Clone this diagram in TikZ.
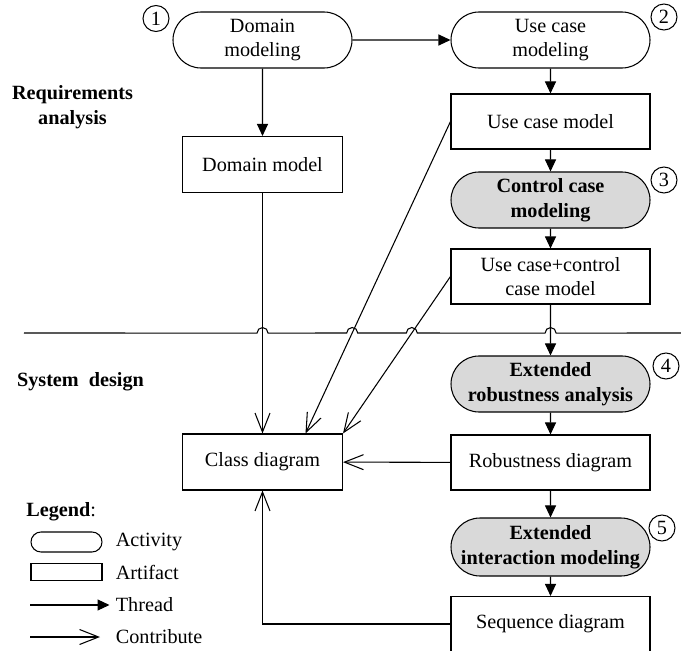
\documentclass[tikz,border=0pt]{standalone}
\usepackage{fontspec}
\setmainfont{Liberation Serif}
\usepackage{tikz}
\usetikzlibrary{arrows.meta,shapes.misc}
\newcommand\figfont{\fontsize{11.5pt}{14pt}\selectfont}
\tikzset{my thread/.style={
  black,
  -{Triangle[length=0.24cm,width=0.22cm]}
  },
  my contrib/.style={
  black,
  -{Straight Barb[length=0.38cm,width=0.30cm]}
  },
  activity/.style={draw,rounded rectangle,minimum width=3.98cm,minimum height=1.12cm,inner sep=0pt,align=center,font=\figfont},
  artifact/.style={draw,rectangle,minimum width=3.98cm,minimum height=1.10cm,align=center,font=\figfont},
  gray act/.style={activity,fill=black!15,font=\figfont\bfseries}
}

\begin{document}
\begin{tikzpicture}[line width=0.6pt]
    \useasboundingbox (0,0) rectangle (13.62,-13.02);

    \node[activity,minimum width=3.58cm] (DM) at (5.25,-0.80) {Domain\\modeling};
    \node[activity] (UCM) at (11.01,-0.80) {Use case\\modeling};
    \node[artifact] (UC) at (11.01,-2.43) {Use case model};
    \node[gray act] (CCM) at (11.01,-4.00) {Control case\\modeling};
    \node[artifact] (UCC) at (11.01,-5.53) {Use case+control\\case model};
    \node[gray act] (ERA) at (11.01,-7.68) {Extended\\robustness analysis};
    \node[artifact] (RD) at (11.01,-9.25) {Robustness diagram};
    \node[gray act,minimum height=1.16cm] (EIM) at (11.01,-10.94) {Extended\\interaction modeling};
    \node[artifact] (SD) at (11.01,-12.48) {Sequence diagram};
    \node[artifact,minimum width=3.20cm,minimum height=1.12cm] (DMod) at (5.25,-3.29) {Domain model};
    \node[artifact,minimum width=3.20cm,minimum height=1.12cm] (CD) at (5.25,-9.24) {Class diagram};

    \foreach \n/\x/\y in {1/3.12/-0.37,2/13.28/-0.34,3/13.28/-3.60,4/13.32/-7.32,5/13.24/-10.56}
        \node[draw,circle,minimum size=0.52cm,inner sep=0pt,font=\figfont] (C\n) at (\x,\y) {\n};

    \node[font=\figfont\bfseries,align=center] (RA) at (1.45,-2.14) {Requirements\\analysis};
    \node[font=\figfont\bfseries] (SysD) at (1.61,-7.64) {System~~design};

    \draw[my thread] (DM) -- (UCM);
    \draw[my thread] (DM) -- (DMod);
    \draw[my thread] (UCM) -- (UC);
    \draw[my thread] (UC) -- (CCM);
    \draw[my thread] (CCM) -- (UCC);
    \draw[my thread] (UCC) -- (ERA);
    \draw[my thread] (ERA) -- (RD);
    \draw[my thread] (RD) -- (EIM);
    \draw[my thread] (EIM) -- (SD);

    \coordinate (T1) at ([xshift=0.86cm]CD.north);
    \draw[my contrib] (DMod) -- (CD);
    \draw[my contrib] (UC.west) -- (T1);
    \draw[my contrib] (UCC.west) -- (CD.north east);
    \draw[my contrib] (RD) -- (CD);
    \draw[my contrib] (SD.west) -| (CD.south);

    % border between the two phases, hopping over the lines
    \coordinate (L) at (0.48,-6.66);
    \coordinate (R) at (13.62,-6.66);
    \coordinate (J1) at (intersection of L--R and DMod--CD);
    \coordinate (J2) at (intersection of L--R and UC.west--T1);
    \coordinate (J3) at (intersection of L--R and UCC.west--CD.north east);
    \coordinate (J4) at (intersection of L--R and UCC--ERA);
    \draw (L) foreach \j in {1,...,4} {-- ([xshift=-0.11cm]J\j) arc (180:0:0.11cm)} -- (R);

    % legend
    \node[font=\figfont,anchor=west] (LG) at (0.40,-10.24) {\textbf{Legend}:};
    \node[draw,rounded rectangle,minimum width=1.42cm,minimum height=0.40cm,inner sep=0pt] (LA) at (1.33,-10.84) {};
    \node[draw,minimum width=1.42cm,minimum height=0.34cm,inner sep=0pt] (LR) at (1.33,-11.44) {};
    \foreach \t/\y [count=\n] in {Activity/-10.84,Artifact/-11.44,Thread/-12.10,Contribute/-12.74}
        \node[font=\figfont,anchor=west] (LT\n) at (2.19,\y) {\t};
    \coordinate (LT) at (0.60,-12.10);
    \coordinate (LC) at (0.60,-12.74);
    \coordinate (LCe) at (2.00,-12.74);
    \draw[my thread] (LT) -- (LT3.west);
    \draw[my contrib] (LC) -- (LCe);

\end{tikzpicture}
\end{document}
